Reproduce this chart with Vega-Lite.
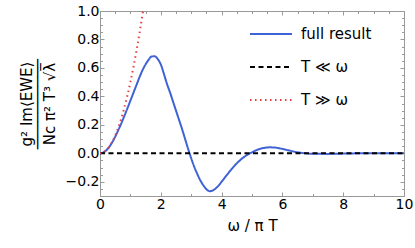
{
  "$schema": "https://vega.github.io/schema/vega-lite/v6.json",
  "width": 304,
  "height": 185,
  "autosize": "none",
  "padding": {"left": 100, "top": 11, "right": 11, "bottom": 52},
  "config": {
    "view": {"stroke": null},
    "font": "DejaVu Sans",
    "axis": {
      "domainColor": "#999999",
      "tickColor": "#999999",
      "labelColor": "#000000",
      "titleColor": "#000000",
      "labelFontSize": 14,
      "titleFontSize": 15,
      "titleFontWeight": "normal",
      "grid": false,
      "labelFlush": false,
      "labelOverlap": false,
      "labelBound": false
    }
  },
  "data": {
    "values": [
      {"x": 0, "y": 0, "s": "full result"},
      {"x": 0.1, "y": 0.005, "s": "full result"},
      {"x": 0.2, "y": 0.02, "s": "full result"},
      {"x": 0.3, "y": 0.044, "s": "full result"},
      {"x": 0.4, "y": 0.077, "s": "full result"},
      {"x": 0.5, "y": 0.117, "s": "full result"},
      {"x": 0.6, "y": 0.162, "s": "full result"},
      {"x": 0.7, "y": 0.21, "s": "full result"},
      {"x": 0.8, "y": 0.262, "s": "full result"},
      {"x": 0.9, "y": 0.315, "s": "full result"},
      {"x": 1.0, "y": 0.37, "s": "full result"},
      {"x": 1.1, "y": 0.425, "s": "full result"},
      {"x": 1.2, "y": 0.48, "s": "full result"},
      {"x": 1.3, "y": 0.535, "s": "full result"},
      {"x": 1.4, "y": 0.585, "s": "full result"},
      {"x": 1.5, "y": 0.625, "s": "full result"},
      {"x": 1.6, "y": 0.658, "s": "full result"},
      {"x": 1.7, "y": 0.68, "s": "full result"},
      {"x": 1.8, "y": 0.682, "s": "full result"},
      {"x": 1.9, "y": 0.662, "s": "full result"},
      {"x": 2.0, "y": 0.625, "s": "full result"},
      {"x": 2.1, "y": 0.56, "s": "full result"},
      {"x": 2.2, "y": 0.49, "s": "full result"},
      {"x": 2.3, "y": 0.43, "s": "full result"},
      {"x": 2.4, "y": 0.365, "s": "full result"},
      {"x": 2.5, "y": 0.3, "s": "full result"},
      {"x": 2.6, "y": 0.235, "s": "full result"},
      {"x": 2.7, "y": 0.17, "s": "full result"},
      {"x": 2.8, "y": 0.1, "s": "full result"},
      {"x": 2.9, "y": 0.03, "s": "full result"},
      {"x": 3.0, "y": -0.035, "s": "full result"},
      {"x": 3.1, "y": -0.095, "s": "full result"},
      {"x": 3.2, "y": -0.145, "s": "full result"},
      {"x": 3.3, "y": -0.19, "s": "full result"},
      {"x": 3.4, "y": -0.225, "s": "full result"},
      {"x": 3.5, "y": -0.252, "s": "full result"},
      {"x": 3.6, "y": -0.266, "s": "full result"},
      {"x": 3.7, "y": -0.262, "s": "full result"},
      {"x": 3.8, "y": -0.248, "s": "full result"},
      {"x": 3.9, "y": -0.227, "s": "full result"},
      {"x": 4.0, "y": -0.2, "s": "full result"},
      {"x": 4.2, "y": -0.145, "s": "full result"},
      {"x": 4.4, "y": -0.093, "s": "full result"},
      {"x": 4.6, "y": -0.05, "s": "full result"},
      {"x": 4.8, "y": -0.017, "s": "full result"},
      {"x": 5.0, "y": 0.007, "s": "full result"},
      {"x": 5.2, "y": 0.027, "s": "full result"},
      {"x": 5.4, "y": 0.038, "s": "full result"},
      {"x": 5.6, "y": 0.042, "s": "full result"},
      {"x": 5.8, "y": 0.039, "s": "full result"},
      {"x": 6.0, "y": 0.031, "s": "full result"},
      {"x": 6.2, "y": 0.021, "s": "full result"},
      {"x": 6.4, "y": 0.011, "s": "full result"},
      {"x": 6.6, "y": 0.004, "s": "full result"},
      {"x": 6.8, "y": -0.001, "s": "full result"},
      {"x": 7.0, "y": -0.003, "s": "full result"},
      {"x": 7.5, "y": -0.004, "s": "full result"},
      {"x": 8.0, "y": -0.002, "s": "full result"},
      {"x": 8.5, "y": 0.0, "s": "full result"},
      {"x": 9.0, "y": 0.001, "s": "full result"},
      {"x": 10.0, "y": 0.0, "s": "full result"},
      {"x": 0, "y": 0, "s": "T ≪ ω"},
      {"x": 10, "y": 0, "s": "T ≪ ω"},
      {"x": 0, "y": 0, "s": "T ≫ ω"},
      {"x": 0.1, "y": 0.005, "s": "T ≫ ω"},
      {"x": 0.2, "y": 0.02, "s": "T ≫ ω"},
      {"x": 0.3, "y": 0.045, "s": "T ≫ ω"},
      {"x": 0.4, "y": 0.08, "s": "T ≫ ω"},
      {"x": 0.5, "y": 0.125, "s": "T ≫ ω"},
      {"x": 0.6, "y": 0.18, "s": "T ≫ ω"},
      {"x": 0.7, "y": 0.245, "s": "T ≫ ω"},
      {"x": 0.8, "y": 0.32, "s": "T ≫ ω"},
      {"x": 0.9, "y": 0.405, "s": "T ≫ ω"},
      {"x": 1.0, "y": 0.5, "s": "T ≫ ω"},
      {"x": 1.1, "y": 0.605, "s": "T ≫ ω"},
      {"x": 1.2, "y": 0.72, "s": "T ≫ ω"},
      {"x": 1.3, "y": 0.845, "s": "T ≫ ω"},
      {"x": 1.4, "y": 0.98, "s": "T ≫ ω"},
      {"x": 1.414, "y": 1.0, "s": "T ≫ ω"}
    ]
  },
  "layer": [
    {
      "mark": {"type": "line", "interpolate": "monotone", "clip": true},
      "encoding": {
        "x": {
          "field": "x", "type": "quantitative",
          "scale": {"domain": [0, 10], "nice": false, "zero": false},
          "axis": {
            "values": [0,0.5,1,1.5,2,2.5,3,3.5,4,4.5,5,5.5,6,6.5,7,7.5,8,8.5,9,9.5,10],
            "format": "d",
            "labelExpr": "datum.value % 2 == 0 ? datum.label : ''",
            "tickSize": {"condition": {"test": "datum.value % 2 == 0", "value": -4}, "value": -2.5},
            "labelPadding": 5,
            "title": "ω / π T",
            "titlePadding": 6
          }
        },
        "y": {
          "field": "y", "type": "quantitative",
          "scale": {"domain": [-0.3, 1.0], "nice": false, "zero": false},
          "axis": {
            "values": [-0.3,-0.25,-0.2,-0.15,-0.1,-0.05,0,0.05,0.1,0.15,0.2,0.25,0.3,0.35,0.4,0.45,0.5,0.55,0.6,0.65,0.7,0.75,0.8,0.85,0.9,0.95,1.0],
            "format": ".1f",
            "labelExpr": "abs(datum.value*5 - round(datum.value*5)) < 0.001 ? datum.label : ''",
            "tickSize": {"condition": {"test": "abs(datum.value*5 - round(datum.value*5)) < 0.001", "value": -4}, "value": -2.5},
            "labelPadding": 5,
            "title": ["g² Im⟨EWE⟩", "──────────", "Nc π² T³ √λ̅"],
            "titleLineHeight": 11.5,
            "titlePadding": 8
          }
        },
        "color": {
          "field": "s", "type": "nominal",
          "scale": {"domain": ["full result", "T ≪ ω", "T ≫ ω"], "range": ["#3f62d6", "#000000", "#e83c3c"]},
          "legend": {
            "orient": "none",
            "legendX": 149,
            "legendY": 13,
            "title": null,
            "padding": 0,
            "symbolType": "stroke",
            "symbolSize": 1764,
            "labelFontSize": 15,
            "labelOffset": 8,
            "clipHeight": 20,
            "rowPadding": 13,
            "labelColor": "#000000"
          }
        },
        "strokeDash": {
          "field": "s", "type": "nominal",
          "scale": {"domain": ["full result", "T ≪ ω", "T ≫ ω"], "range": [[1, 0], [5, 3.5], [1.5, 3.5]]}
        },
        "strokeWidth": {
          "field": "s", "type": "nominal",
          "scale": {"domain": ["full result", "T ≪ ω", "T ≫ ω"], "range": [2, 2, 1.6]}
        }
      }
    },
    {
      "mark": {"type": "point", "opacity": 0},
      "encoding": {
        "x": {
          "field": "x", "type": "quantitative",
          "axis": {
            "orient": "top",
            "values": [0,0.5,1,1.5,2,2.5,3,3.5,4,4.5,5,5.5,6,6.5,7,7.5,8,8.5,9,9.5,10],
            "labels": false,
            "title": null,
            "tickSize": {"condition": {"test": "datum.value % 2 == 0", "value": -4}, "value": -2.5}
          }
        },
        "y": {
          "field": "y", "type": "quantitative",
          "axis": {
            "orient": "right",
            "values": [-0.3,-0.25,-0.2,-0.15,-0.1,-0.05,0,0.05,0.1,0.15,0.2,0.25,0.3,0.35,0.4,0.45,0.5,0.55,0.6,0.65,0.7,0.75,0.8,0.85,0.9,0.95,1.0],
            "labels": false,
            "title": null,
            "tickSize": {"condition": {"test": "abs(datum.value*5 - round(datum.value*5)) < 0.001", "value": -4}, "value": -2.5}
          }
        }
      }
    }
  ],
  "resolve": {"axis": {"x": "independent", "y": "independent"}}
}
